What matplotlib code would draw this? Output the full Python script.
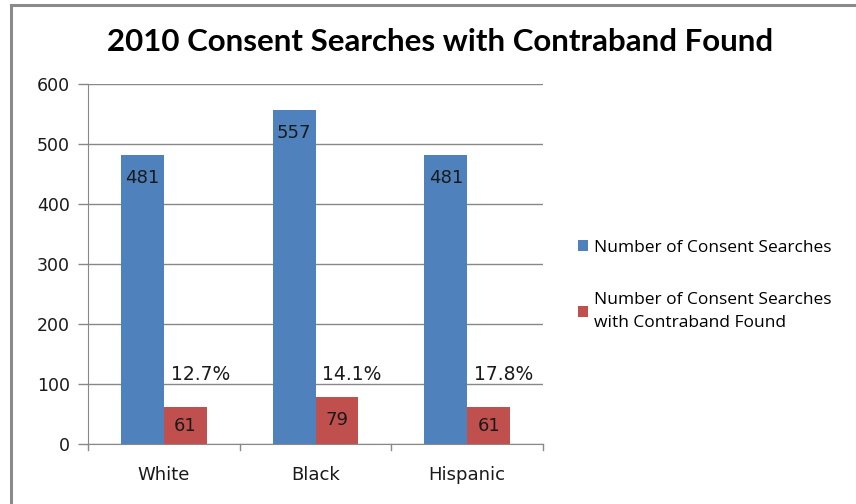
import matplotlib
matplotlib.use("Agg")
import matplotlib.pyplot as plt
from matplotlib.patches import Rectangle
import numpy as np

categories = ["White", "Black", "Hispanic"]
consent_searches = [481, 557, 481]
contraband_found = [61, 79, 61]
hit_rate_labels = ["12.7%", "14.1%", "17.8%"]
series_names = ["Number of Consent Searches",
                "Number of Consent Searches\nwith Contraband Found"]
y_ticks = [0, 100, 200, 300, 400, 500, 600]

BLUE = "#4F81BD"
RED = "#C0504D"
GRID = "#888888"
TXT = "#1a1a1a"

W, H = 856, 504
fig = plt.figure(figsize=(W / 100, H / 100), dpi=100)

# outer chart frame (only the left and top edges fall inside the canvas)
fig.add_artist(Rectangle((11 / W, -0.1), 1.2, (H - 5) / H + 0.1,
                         transform=fig.transFigure, fill=False,
                         edgecolor="#8A8A8A", linewidth=2.2))

ax = fig.add_axes([88 / W, 1 - 444 / H, (543 - 88) / W, 360 / H])

x = np.arange(len(categories))
bw = 0.283
b1 = ax.bar(x - bw / 2, consent_searches, bw, color=BLUE, label=series_names[0])
b2 = ax.bar(x + bw / 2, contraband_found, bw, color=RED, label=series_names[1])

ax.set_xlim(-0.5, len(categories) - 0.5)
ax.set_ylim(0, 600)
ax.set_yticks(y_ticks)
ax.set_yticklabels([str(t) for t in y_ticks], fontsize=12.5, color=TXT,
                   family="DejaVu Sans")
ax.tick_params(axis="y", length=7, color=GRID, width=1, pad=6)

ax.set_xticks(x)
ax.set_xticklabels(categories, fontsize=13, color=TXT, family="DejaVu Sans")
ax.tick_params(axis="x", length=0, pad=16)
# category separator ticks
for xs in np.arange(-0.5, len(categories)):
    ax.plot([xs, xs], [0, -10], color=GRID, lw=1, clip_on=False,
            transform=ax.transData)

ax.yaxis.grid(True, color=GRID, lw=1)
ax.set_axisbelow(True)
for s in ["top", "right"]:
    ax.spines[s].set_visible(False)
ax.spines["left"].set_color(GRID)
ax.spines["bottom"].set_color(GRID)

for xi, v in zip(x, consent_searches):
    ax.text(xi - bw / 2, v - 38, str(v), ha="center", va="center",
            fontsize=13, color=TXT, family="DejaVu Sans")
for xi, v in zip(x, contraband_found):
    ax.text(xi + bw / 2, v / 2, str(v), ha="center", va="center",
            fontsize=13, color=TXT, family="DejaVu Sans")
for xi, v, lab in zip(x, contraband_found, hit_rate_labels):
    ax.text(xi + bw / 2 + 0.1, 115, lab, ha="center", va="center",
            fontsize=13.5, color=TXT, family="DejaVu Sans")

fig.text(440 / W, 1 - 42 / H, "2010 Consent Searches with Contraband Found",
         ha="center", va="center", fontsize=22.5, fontweight="bold",
         family="Lato", color="#000000")

leg = fig.legend(handles=[b1, b2], labels=series_names,
                 loc="upper left", bbox_to_anchor=(562 / W, 1 - 224 / H),
                 frameon=False, handlelength=0.6, handleheight=0.6,
                 handletextpad=0.35, labelspacing=2.1,
                 prop={"family": "Open Sans", "size": 12.5})
leg.get_texts()[1].set_linespacing(1.55)

fig.savefig("out.png", dpi=100)
